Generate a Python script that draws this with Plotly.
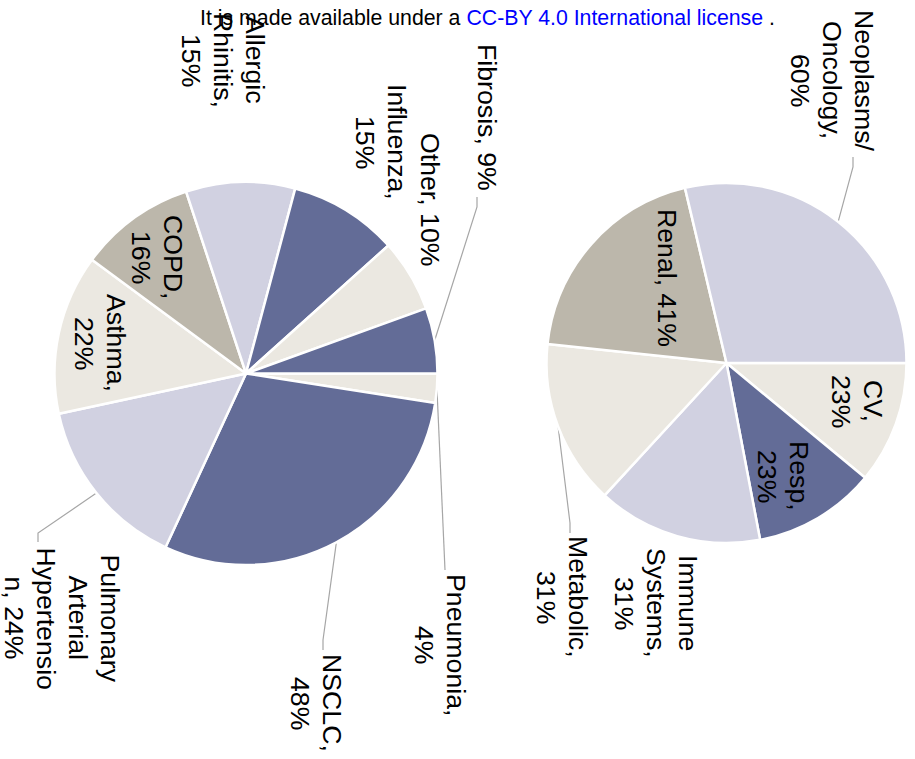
import math
import plotly.graph_objects as go

W, H = 915, 759

# ---------------- data ----------------
left_labels = ["Pneumonia", "NSCLC", "Pulmonary Arterial Hypertension", "Asthma", "COPD",
               "Allergic Rhinitis", "Influenza", "Other", "Fibrosis"]
left_values = [4, 48, 24, 22, 16, 15, 15, 10, 9]
left_lines = [["Pneumonia,", "4%"], ["NSCLC,", "48%"], ["Pulmonary", "Arterial", "Hypertensio", "n, 24%"],
              ["Asthma,", "22%"], ["COPD,", "16%"], ["Allergic", "Rhinitis,", "15%"],
              ["Influenza,", "15%"], ["Other, 10%"], ["Fibrosis, 9%"]]

right_labels = ["CV", "Resp", "Immune Systems", "Metabolic", "Renal", "Neoplasms/Oncology"]
right_values = [23, 23, 31, 31, 41, 60]
right_lines = [["CV,", "23%"], ["Resp,", "23%"], ["Immune", "Systems,", "31%"], ["Metabolic,", "31%"],
               ["Renal, 41%"], ["Neoplasms/", "Oncology,", "60%"]]

# ---------------- styles / layout ----------------
DARK, LAV, BEIGE, GREY = "#636c97", "#d1d1e1", "#ebe8e1", "#bcb7ab"
left_colors = [BEIGE, DARK, LAV, BEIGE, GREY, LAV, DARK, BEIGE, DARK]
right_colors = [BEIGE, DARK, LAV, BEIGE, GREY, LAV]

FONT = "Arial, Liberation Sans, sans-serif"
FS = 26.7
LINE_SP = 32

left_pie = dict(cx=246, cy=373.5, r=191.5)
right_pie = dict(cx=726.5, cy=363, r=180)

# label block centres (page px) and leader elbows
left_pos = [(440, 645), (316, 703), (61.5, 618), (100, 343), (157, 257),
            (223, 60), (381, 142), (430, 200), (487, 117)]
left_leader = [[(445, 560), (445, 570)], [(323, 640), (323, 650)], [(38, 533), (38, 542)],
               None, None, None, None, None, [(477, 207), (477, 197)]]
right_pos = [(857, 401), (783, 476), (656, 603), (562, 597), (667, 278), (832, 80)]
right_leader = [None, None, None, [(570, 523), (570, 533)], None, [(853, 167), (853, 157)]]


def domain(p):
    x0 = p["cx"] - p["r"]
    x1 = p["cx"] + p["r"]
    ytop = p["cy"] - p["r"]
    ybot = p["cy"] + p["r"]
    return dict(x=[x0 / W, x1 / W], y=[(H - ybot) / H, (H - ytop) / H])


fig = go.Figure()

for labels, values, colors, p in [(left_labels, left_values, left_colors, left_pie),
                                  (right_labels, right_values, right_colors, right_pie)]:
    fig.add_trace(go.Pie(labels=labels, values=values, sort=False, direction="clockwise",
                         rotation=90, textinfo="none", hoverinfo="label+value",
                         marker=dict(colors=colors, line=dict(color="white", width=2.5)),
                         domain=domain(p), showlegend=False))

annotations = []


def add_labels(values, lines, pos, leaders, p):
    total = sum(values)
    cum = 0
    for v, ls, (xc, yc), ld in zip(values, lines, pos, leaders):
        mid = (cum + v / 2) / total * 2 * math.pi
        cum += v
        n = len(ls)
        for i, t in enumerate(ls):
            x = xc + (n - 1) / 2 * LINE_SP - i * LINE_SP
            annotations.append(dict(x=x, y=yc, xref="x", yref="y", text=t, showarrow=False,
                                    textangle=90, xanchor="center", yanchor="middle",
                                    font=dict(family=FONT, size=FS, color="black")))
        if ld:
            ex = p["cx"] + p["r"] * math.cos(mid)
            ey = p["cy"] + p["r"] * math.sin(mid)
            xs = [ex] + [q[0] for q in ld]
            ys = [ey] + [q[1] for q in ld]
            fig.add_trace(go.Scatter(x=xs, y=ys, mode="lines", line=dict(color="#a6a6a6", width=1.2),
                                     hoverinfo="skip", showlegend=False))


add_labels(left_values, left_lines, left_pos, left_leader, left_pie)
add_labels(right_values, right_lines, right_pos, right_leader, right_pie)

annotations.append(dict(x=487, y=18, xref="x", yref="y", showarrow=False,
                        text="It is made available under a <span style='color:#0000ff'>CC-BY 4.0 International license</span> .",
                        xanchor="center", yanchor="middle",
                        font=dict(family=FONT, size=21.3, color="black")))

fig.update_layout(
    width=W, height=H, margin=dict(l=0, r=0, t=0, b=0),
    paper_bgcolor="white", plot_bgcolor="white",
    xaxis=dict(range=[0, W], visible=False, fixedrange=True, domain=[0, 1]),
    yaxis=dict(range=[H, 0], visible=False, fixedrange=True, domain=[0, 1]),
    annotations=annotations,
)

fig.write_html("out.html", config={"displayModeBar": False},
               post_script="document.body.style.margin='0px';document.body.style.overflow='hidden';")
